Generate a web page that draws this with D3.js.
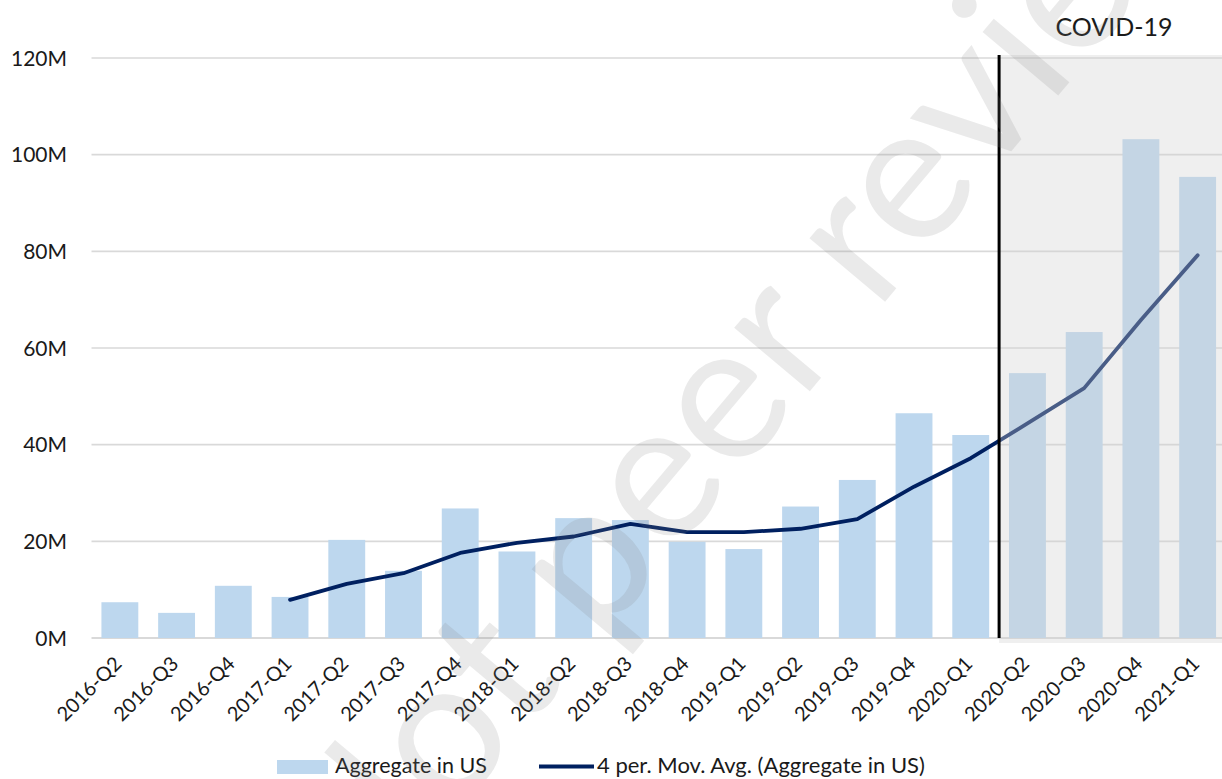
<!DOCTYPE html>
<html>
<head>
<meta charset="utf-8">
<script src="https://cdn.jsdelivr.net/npm/d3@7"></script>
<style>
  html, body { margin: 0; padding: 0; background: #ffffff; }
  svg { display: block; }
  text { font-family: Lato, "Open Sans", sans-serif; fill: #1a1a1a; }
</style>
</head>
<body>
<svg id="chart" width="1222" height="779"></svg>
<script>
// ---- data (values in millions) ----
const categories = ["2016-Q2","2016-Q3","2016-Q4","2017-Q1","2017-Q2","2017-Q3","2017-Q4",
  "2018-Q1","2018-Q2","2018-Q3","2018-Q4","2019-Q1","2019-Q2","2019-Q3","2019-Q4",
  "2020-Q1","2020-Q2","2020-Q3","2020-Q4","2021-Q1"];
const aggregateValues = [7.4, 5.2, 10.8, 8.5, 20.3, 13.9, 26.8, 17.9, 24.8, 24.4, 19.9,
  18.4, 27.2, 32.7, 46.5, 42.0, 54.8, 63.3, 103.2, 95.4];
const movingAvgValues = [null, null, null, 7.9, 11.2, 13.4, 17.6, 19.7, 21.0, 23.6, 21.9,
  21.9, 22.6, 24.6, 31.3, 37.2, 44.4, 51.7, 65.8, 79.2];
const yTicks = [0, 20, 40, 60, 80, 100, 120];
const covidStart = "2020-Q2";
const seriesNames = ["Aggregate in US", "4 per. Mov. Avg. (Aggregate in US)"];
const watermarkText = "Not peer reviewed";
const covidLabel = "COVID-19";

const svg = d3.select("#chart");
const W = 1222, H = 779;

const x = d3.scaleBand().domain(categories).range([91.5, 1226])
  .paddingInner(0.35).paddingOuter(0.175);
const y = d3.scaleLinear().domain([0, 120]).range([638, 58]);

// gridlines
svg.append("g").selectAll("line").data(yTicks).join("line")
  .attr("x1", 91.5).attr("x2", W)
  .attr("y1", d => y(d)).attr("y2", d => y(d))
  .attr("stroke", "#d9d9d9").attr("stroke-width", d => d === 0 ? 2.2 : 1.6);

// y labels
svg.append("g").selectAll("text").data(yTicks).join("text")
  .attr("x", 67).attr("y", d => y(d)).attr("dy", "0.36em")
  .attr("text-anchor", "end").attr("font-size", 21)
  .text(d => d + "M");

// bars
svg.append("g").selectAll("rect").data(categories).join("rect")
  .attr("x", d => x(d)).attr("width", x.bandwidth())
  .attr("y", (d, i) => y(aggregateValues[i]))
  .attr("height", (d, i) => y(0) - y(aggregateValues[i]))
  .attr("fill", "#bdd7ee");

// moving average line
const line = d3.line()
  .defined(d => d.v !== null)
  .x(d => x(d.c) + x.bandwidth() / 2)
  .y(d => y(d.v));
svg.append("path")
  .datum(categories.map((c, i) => ({ c, v: movingAvgValues[i] })))
  .attr("d", line).attr("fill", "none")
  .attr("stroke", "#002060").attr("stroke-width", 3.8)
  .attr("stroke-linejoin", "round").attr("stroke-linecap", "round");

// covid shading (overlay)
const gap = x.step() - x.bandwidth();
const covidX = x(covidStart) - gap / 2;
svg.append("rect")
  .attr("x", covidX).attr("y", 55)
  .attr("width", W - covidX).attr("height", 643 - 55)
  .attr("fill", "rgb(210,210,210)").attr("fill-opacity", 0.35);

// vertical marker
svg.append("line")
  .attr("x1", covidX).attr("x2", covidX)
  .attr("y1", 55).attr("y2", y(0))
  .attr("stroke", "#000").attr("stroke-width", 3);

svg.append("text")
  .attr("x", 1114).attr("y", 36).attr("text-anchor", "middle")
  .attr("font-size", 25).text(covidLabel);

// x labels
svg.append("g").selectAll("text").data(categories).join("text")
  .attr("transform", d => `translate(${x(d) + x.bandwidth() / 2 + 3},${665}) rotate(-45)`)
  .attr("text-anchor", "end").attr("font-size", 20)
  .text(d => d);

// legend
const lg = svg.append("g");
lg.append("rect").attr("x", 277).attr("y", 760).attr("width", 51).attr("height", 14)
  .attr("fill", "#bdd7ee");
lg.append("text").attr("x", 335).attr("y", 773).attr("font-size", 21.5)
  .attr("fill", "#595959").text(seriesNames[0]);
lg.append("line").attr("x1", 539).attr("x2", 594).attr("y1", 766.5).attr("y2", 766.5)
  .attr("stroke", "#002060").attr("stroke-width", 4);
lg.append("text").attr("x", 597).attr("y", 773).attr("font-size", 22)
  .attr("fill", "#595959").text(seriesNames[1]);

// watermark
svg.append("text")
  .attr("transform", "translate(868,322) rotate(-50)")
  .attr("text-anchor", "middle").attr("font-size", 195)
  .style("fill", "rgb(128,128,128)").attr("fill-opacity", 0.17)
  .text(watermarkText);
</script>
</body>
</html>
